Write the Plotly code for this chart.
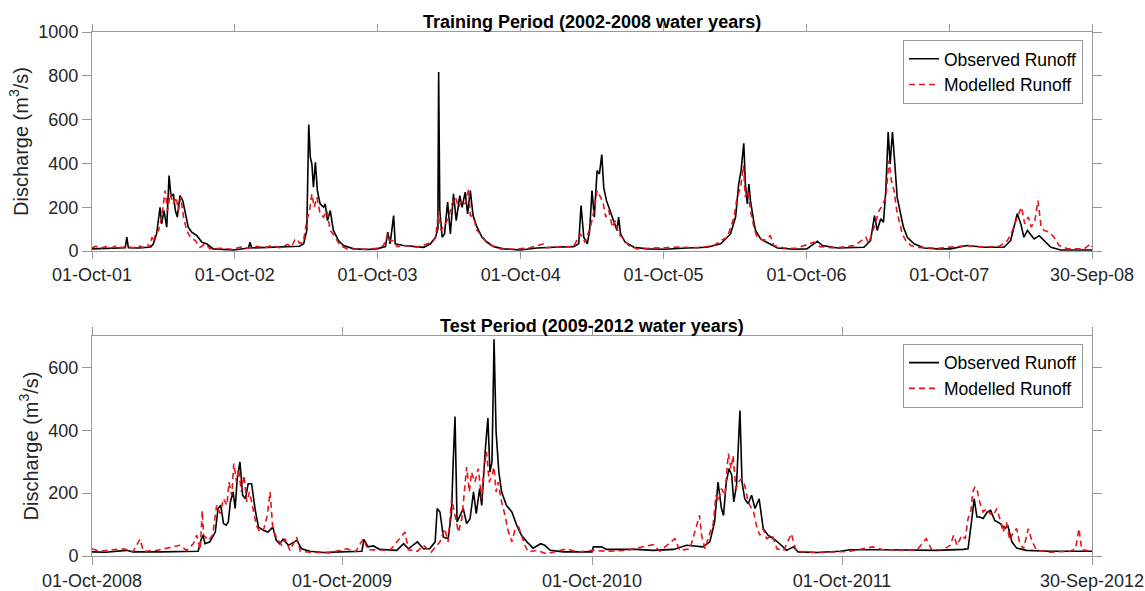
import pandas as pd
import plotly.graph_objects as go

# ---------------- data (day offset from period start, discharge m3/s) ----------------
train_start = "2001-10-01"
train_end = "2008-09-30"
test_start = "2008-10-01"
test_end = "2012-09-30"

train_obs = [
    [0, 10], [30, 12], [60, 14], [85, 15], [89, 63], [93, 15], [120, 14], [150, 18], [157, 33],
    [165, 78], [174, 200], [178, 124], [184, 185], [191, 109], [197, 345], [202, 246], [208, 261],
    [213, 185], [218, 155], [225, 253], [232, 230], [238, 170], [246, 109], [255, 86], [268, 70],
    [281, 40], [293, 33], [310, 10], [362, 5], [400, 14], [404, 40], [408, 14], [450, 16], [500, 18],
    [530, 22], [541, 33], [549, 94], [554, 578], [558, 428], [562, 398], [566, 291], [571, 405],
    [576, 276], [583, 215], [592, 200], [596, 215], [602, 139], [609, 185], [617, 94], [630, 48],
    [643, 25], [669, 10], [703, 7], [728, 10], [750, 20], [756, 86], [762, 33], [771, 162], [775, 33],
    [796, 25], [848, 17], [865, 33], [878, 63], [884, 100], [886, 817], [889, 185], [895, 63],
    [901, 78], [909, 223], [916, 78], [924, 261], [931, 139], [940, 253], [946, 200], [954, 269],
    [960, 170], [967, 276], [974, 162], [984, 109], [997, 63], [1010, 40], [1027, 20], [1052, 10],
    [1095, 5], [1137, 14], [1180, 17], [1231, 20], [1244, 33], [1250, 208], [1257, 63], [1266, 33],
    [1272, 94], [1278, 276], [1284, 155], [1291, 367], [1297, 352], [1303, 440], [1308, 291],
    [1315, 230], [1321, 200], [1327, 170], [1334, 132], [1342, 94], [1346, 155], [1351, 78],
    [1363, 40], [1385, 17], [1419, 10], [1462, 8], [1521, 14], [1572, 17], [1607, 33], [1632, 78],
    [1645, 155], [1653, 306], [1659, 367], [1666, 492], [1670, 306], [1675, 215], [1679, 306],
    [1683, 230], [1692, 130], [1696, 94], [1709, 55], [1734, 33], [1752, 14], [1794, 8], [1827, 10],
    [1845, 33], [1854, 45], [1867, 25], [1906, 14], [1973, 17], [1990, 48], [2000, 162], [2007, 94],
    [2016, 147], [2023, 132], [2029, 276], [2035, 543], [2040, 398], [2046, 543], [2052, 398],
    [2058, 246], [2065, 185], [2074, 109], [2084, 63], [2101, 33], [2127, 14], [2161, 10], [2194, 10],
    [2237, 25], [2280, 17], [2331, 17], [2348, 48], [2357, 109], [2365, 170], [2374, 124], [2382, 63],
    [2391, 94], [2399, 78], [2408, 55], [2421, 70], [2434, 48], [2451, 17], [2476, 5], [2536, 5],
    [2556, 5],
]

train_mod = [
    [0, 15], [10, 22], [20, 12], [35, 20], [50, 14], [62, 25], [75, 15], [90, 22], [105, 14], [118, 25],
    [130, 16], [142, 30], [148, 18], [153, 63], [157, 40], [162, 80], [170, 94], [178, 155], [187, 276],
    [193, 185], [200, 261], [208, 215], [215, 246], [221, 185], [227, 246], [234, 155], [242, 94],
    [251, 63], [264, 48], [276, 17], [289, 33], [302, 10], [330, 12], [360, 8], [380, 18], [400, 12],
    [420, 22], [440, 14], [460, 25], [480, 15], [500, 30], [510, 20], [518, 50], [524, 55], [530, 35],
    [540, 40], [549, 139], [556, 185], [562, 261], [568, 200], [575, 246], [583, 170], [592, 155],
    [600, 185], [609, 94], [622, 63], [634, 25], [652, 10], [690, 8], [730, 12], [745, 25], [756, 78],
    [762, 45], [771, 48], [780, 20], [800, 25], [830, 18], [856, 33], [870, 40], [878, 60], [886, 185],
    [892, 94], [903, 124], [912, 155], [920, 215], [929, 246], [937, 200], [946, 230], [954, 215],
    [963, 284], [967, 162], [975, 155], [984, 94], [997, 70], [1010, 33], [1022, 25], [1044, 10],
    [1080, 8], [1120, 15], [1155, 33], [1160, 15], [1200, 20], [1230, 18], [1248, 78], [1260, 40],
    [1274, 109], [1283, 185], [1291, 276], [1300, 246], [1307, 215], [1313, 155], [1321, 185],
    [1330, 109], [1338, 139], [1346, 78], [1359, 55], [1372, 25], [1393, 10], [1440, 12], [1500, 18],
    [1550, 15], [1590, 25], [1607, 48], [1624, 63], [1641, 155], [1649, 246], [1658, 291], [1665, 390],
    [1670, 246], [1677, 276], [1683, 185], [1692, 109], [1700, 63], [1717, 48], [1734, 70], [1743, 25],
    [1769, 14], [1800, 12], [1845, 40], [1860, 20], [1900, 14], [1950, 25], [1978, 63], [1985, 35],
    [1999, 109], [2012, 185], [2020, 208], [2029, 246], [2037, 413], [2043, 322], [2050, 276],
    [2057, 185], [2063, 139], [2071, 78], [2080, 48], [2093, 25], [2110, 17], [2160, 12], [2237, 25],
    [2280, 18], [2320, 22], [2340, 48], [2353, 94], [2365, 155], [2376, 200], [2384, 124], [2393, 155],
    [2401, 109], [2410, 139], [2418, 230], [2426, 109], [2434, 94], [2447, 86], [2459, 63], [2472, 25],
    [2493, 10], [2536, 10], [2553, 33], [2556, 20],
]

test_obs = [
    [0, 13], [20, 12], [50, 18], [60, 13], [100, 13], [153, 13], [155, 15], [159, 50], [162, 66],
    [165, 39], [172, 45], [180, 76], [184, 151], [188, 161], [192, 103], [196, 98], [199, 108],
    [202, 172], [206, 204], [209, 151], [212, 246], [216, 299], [220, 193], [224, 182], [228, 230],
    [233, 230], [238, 151], [243, 92], [250, 82], [257, 76], [264, 92], [269, 50], [274, 39], [279, 53],
    [287, 34], [299, 50], [306, 23], [318, 15], [338, 11], [362, 13], [394, 15], [397, 53], [403, 29],
    [411, 32], [420, 21], [445, 18], [455, 39], [462, 23], [475, 45], [484, 23], [493, 23], [501, 45],
    [504, 151], [508, 140], [513, 60], [520, 55], [525, 140], [527, 278], [530, 444], [533, 108],
    [537, 129], [542, 151], [547, 103], [552, 119], [557, 204], [561, 135], [566, 214], [569, 161],
    [574, 331], [578, 439], [581, 267], [584, 299], [587, 689], [590, 394], [594, 267], [598, 204],
    [605, 161], [613, 140], [620, 98], [627, 66], [635, 45], [644, 25], [655, 39], [661, 34], [669, 18],
    [688, 13], [730, 13], [732, 29], [744, 29], [751, 21], [795, 21], [819, 18], [849, 21], [868, 34],
    [892, 29], [902, 45], [909, 108], [914, 235], [919, 151], [922, 129], [926, 235], [930, 278],
    [934, 257], [937, 172], [941, 225], [946, 463], [949, 235], [953, 182], [958, 166], [963, 193],
    [968, 151], [974, 182], [980, 87], [987, 66], [995, 55], [1004, 39], [1014, 18], [1024, 29],
    [1031, 13], [1058, 11], [1092, 15], [1107, 20], [1155, 20], [1194, 18], [1233, 18], [1272, 21],
    [1279, 23], [1284, 108], [1288, 182], [1292, 124], [1296, 124], [1301, 119], [1307, 140],
    [1312, 145], [1318, 113], [1326, 103], [1333, 87], [1337, 98], [1343, 45], [1350, 25], [1364, 18],
    [1399, 15], [1428, 15], [1460, 15],
]

test_mod = [
    [0, 23], [10, 15], [23, 18], [46, 23], [60, 14], [70, 53], [75, 15], [95, 18], [128, 34], [138, 18],
    [148, 39], [153, 66], [158, 20], [161, 145], [163, 66], [170, 50], [176, 66], [182, 161], [187, 135],
    [192, 182], [197, 161], [200, 235], [204, 193], [207, 294], [211, 235], [214, 278], [218, 204],
    [222, 257], [226, 172], [230, 204], [235, 151], [240, 98], [245, 76], [251, 87], [256, 129],
    [260, 204], [264, 87], [270, 55], [277, 34], [282, 55], [289, 18], [299, 60], [304, 15], [318, 12],
    [347, 10], [372, 23], [385, 14], [396, 55], [403, 20], [435, 18], [457, 76], [462, 20], [475, 15],
    [484, 34], [495, 12], [508, 45], [515, 87], [520, 45], [525, 182], [530, 124], [535, 76], [540, 119],
    [545, 225], [547, 283], [551, 204], [554, 267], [559, 235], [564, 278], [569, 182], [572, 278],
    [576, 331], [580, 235], [584, 257], [587, 283], [590, 204], [593, 235], [598, 172], [603, 129],
    [608, 76], [613, 45], [618, 87], [623, 92], [627, 66], [632, 34], [637, 13], [650, 18], [664, 7],
    [693, 23], [708, 13], [732, 18], [751, 15], [780, 18], [819, 36], [829, 15], [851, 55], [858, 18],
    [873, 23], [887, 129], [890, 66], [895, 23], [901, 66], [907, 103], [911, 193], [914, 172],
    [919, 214], [924, 193], [929, 326], [933, 278], [936, 320], [940, 214], [944, 235], [948, 246],
    [953, 225], [958, 172], [963, 151], [966, 140], [970, 98], [975, 66], [980, 87], [985, 55],
    [993, 66], [1000, 23], [1010, 18], [1021, 71], [1028, 15], [1058, 11], [1107, 15], [1140, 29],
    [1155, 20], [1204, 18], [1218, 55], [1226, 20], [1243, 20], [1253, 34], [1258, 66], [1263, 34],
    [1270, 66], [1275, 55], [1279, 119], [1283, 140], [1286, 204], [1289, 220], [1293, 204], [1296, 172],
    [1301, 140], [1306, 151], [1311, 135], [1316, 129], [1321, 151], [1327, 108], [1330, 76],
    [1335, 108], [1340, 50], [1345, 76], [1350, 87], [1354, 45], [1360, 23], [1367, 87], [1372, 50],
    [1379, 18], [1399, 12], [1428, 15], [1436, 23], [1441, 87], [1445, 20], [1460, 15],
]

train_ticks = ["2001-10-01", "2002-10-01", "2003-10-01", "2004-10-01", "2005-10-01",
               "2006-10-01", "2007-10-01", "2008-09-30"]
train_ticktext = ["01-Oct-01", "01-Oct-02", "01-Oct-03", "01-Oct-04", "01-Oct-05",
                  "01-Oct-06", "01-Oct-07", "30-Sep-08"]
test_ticks = ["2008-10-01", "2009-10-01", "2010-10-01", "2011-10-01", "2012-09-30"]
test_ticktext = ["01-Oct-2008", "01-Oct-2009", "01-Oct-2010", "01-Oct-2011", "30-Sep-2012"]

train_yticks = [0, 200, 400, 600, 800, 1000]
test_yticks = [0, 200, 400, 600]

title_train = "Training Period (2002-2008 water years)"
title_test = "Test Period (2009-2012 water years)"
ytitle = "Discharge (m<sup>3</sup>/s)"


def to_xy(start, pairs):
    t0 = pd.Timestamp(start)
    x = [t0 + pd.Timedelta(days=d) for d, _ in pairs]
    y = [v for _, v in pairs]
    return x, y


FONT = "Liberation Sans, Arial, sans-serif"
BLACK = "#000000"
RED = "#e3161b"
AXC = "#9a9a9a"
TXT = "#262626"
TICK_SIZE = 18
LEG_SIZE = 17.5
TITLE_SIZE = 18
YT_SIZE = 20

fig = go.Figure()

x, y = to_xy(train_start, train_obs)
fig.add_trace(go.Scatter(x=x, y=y, mode="lines", name="Observed Runoff",
                         line=dict(color=BLACK, width=1.6), xaxis="x", yaxis="y", legend="legend"))
x, y = to_xy(train_start, train_mod)
fig.add_trace(go.Scatter(x=x, y=y, mode="lines", name="Modelled Runoff",
                         line=dict(color=RED, width=1.6, dash="6px,4px"), xaxis="x", yaxis="y",
                         legend="legend"))
x, y = to_xy(test_start, test_obs)
fig.add_trace(go.Scatter(x=x, y=y, mode="lines", name="Observed Runoff",
                         line=dict(color=BLACK, width=1.6), xaxis="x2", yaxis="y2", legend="legend2"))
x, y = to_xy(test_start, test_mod)
fig.add_trace(go.Scatter(x=x, y=y, mode="lines", name="Modelled Runoff",
                         line=dict(color=RED, width=1.6, dash="6px,4px"), xaxis="x2", yaxis="y2",
                         legend="legend2"))

axis_common = dict(showline=True, linecolor=AXC, linewidth=1, mirror="ticks", ticks="outside",
                   tickcolor=AXC, tickwidth=1, showgrid=False, zeroline=False,
                   automargin=False,
                   tickfont=dict(family=FONT, size=TICK_SIZE, color=TXT))

top_dom = [0.582, 1.0]
bot_dom = [0.0, 0.42]

legend_common = dict(bgcolor="white", bordercolor=AXC, borderwidth=1,
                     font=dict(family=FONT, size=LEG_SIZE, color="#000"), xanchor="right",
                     yanchor="top", itemwidth=30, tracegroupgap=0)

fig.update_layout(
    width=1145, height=591,
    margin=dict(l=92, r=53, t=32, b=35, autoexpand=False),
    paper_bgcolor="white", plot_bgcolor="white",
    font=dict(family=FONT, size=16, color=TXT),
    showlegend=True,
    xaxis=dict(type="date", range=[train_start, train_end], tickvals=train_ticks,
               ticktext=train_ticktext, anchor="y", domain=[0, 1], ticklen=7, **axis_common),
    yaxis=dict(range=[0, 1000], tickvals=train_yticks, domain=top_dom, anchor="x", ticklen=9,
               title=dict(text=ytitle, font=dict(family=FONT, size=YT_SIZE, color=TXT), standoff=4),
               **axis_common),
    xaxis2=dict(type="date", range=[test_start, test_end], tickvals=test_ticks,
                ticktext=test_ticktext, anchor="y2", domain=[0, 1], ticklen=8, **axis_common),
    yaxis2=dict(range=[0, 700], tickvals=test_yticks, domain=bot_dom, anchor="x2", ticklen=9,
                title=dict(text=ytitle, font=dict(family=FONT, size=YT_SIZE, color=TXT), standoff=4),
                **axis_common),
    legend=dict(x=0.991, y=0.985, **legend_common),
    legend2=dict(x=0.991, y=bot_dom[1] - 0.015, **legend_common),
    annotations=[
        dict(text="<b>" + title_train + "</b>", xref="paper", yref="paper", x=0.5, y=top_dom[1],
             xanchor="center", yanchor="bottom", showarrow=False, yshift=-2,
             font=dict(family=FONT, size=TITLE_SIZE, color="#000")),
        dict(text="<b>" + title_test + "</b>", xref="paper", yref="paper", x=0.5, y=bot_dom[1],
             xanchor="center", yanchor="bottom", showarrow=False, yshift=-2,
             font=dict(family=FONT, size=TITLE_SIZE, color="#000")),
    ],
)

fig.write_html("out.html", config={"displayModeBar": False},
               post_script="document.body.style.margin='0';")
